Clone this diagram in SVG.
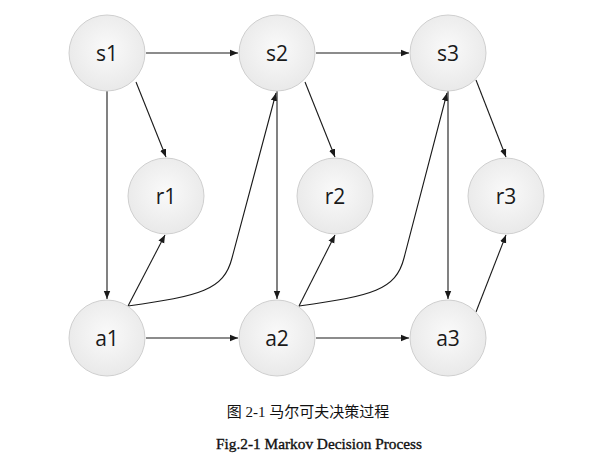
<svg xmlns="http://www.w3.org/2000/svg" width="600" height="474" viewBox="0 0 600 474">
<style>
.node circle{fill:url(#g);stroke:#cfcfcf;stroke-width:1}
.node text{font-family:"Open Sans","Noto Sans","Liberation Sans",sans-serif;font-size:21px;fill:#1a1a1a;text-anchor:middle}
#edges path{fill:none;stroke:#1a1a1a;stroke-width:1.1;marker-end:url(#ah)}
.cap{font-family:"Liberation Serif","Noto Sans CJK SC",serif;fill:#111;text-anchor:middle}
</style>
<defs>
<radialGradient id="g" cx="50%" cy="45%" r="55%">
<stop offset="0" stop-color="#fafafa"/>
<stop offset="1" stop-color="#e9e9e9"/>
</radialGradient>
<marker id="ah" viewBox="0 0 10 10" refX="10" refY="5" markerWidth="8" markerHeight="8" markerUnits="userSpaceOnUse" orient="auto">
<path d="M0,1 L10,5 L0,9 Z" fill="#1a1a1a"/>
</marker>
</defs>
<rect width="600" height="474" fill="#fff"/>
<g id="edges">
<path d="M146,53 L238,53"/>
<path d="M316,53 L409,53"/>
<path d="M146,338 L238,338"/>
<path d="M316,338 L409,338"/>
<path d="M107,91 L107,299"/>
<path d="M277,91 L277,299"/>
<path d="M448,91 L448,299"/>
<path d="M136,82 L166,157"/>
<path d="M305,82 L335,157"/>
<path d="M476,80 L506,157"/>
<path d="M128,306 L165,235"/>
<path d="M299,306 L335,235"/>
<path d="M476,312 L506,235"/>
<path d="M128,306 C200,296 224,290 232,258 L276,93"/>
<path d="M299,306 C372,296 396,290 404,258 L447,93"/>
</g>
<g id="s1" class="node"><circle cx="107" cy="53" r="38"/><text x="107" y="61">s1</text></g>
<g id="s2" class="node"><circle cx="277" cy="53" r="38"/><text x="277" y="61">s2</text></g>
<g id="s3" class="node"><circle cx="448" cy="53" r="38"/><text x="448" y="61">s3</text></g>
<g id="r1" class="node"><circle cx="166" cy="196" r="38"/><text x="166" y="204">r1</text></g>
<g id="r2" class="node"><circle cx="335" cy="196" r="38"/><text x="335" y="204">r2</text></g>
<g id="r3" class="node"><circle cx="506" cy="196" r="38"/><text x="506" y="204">r3</text></g>
<g id="a1" class="node"><circle cx="107" cy="338" r="38"/><text x="107" y="346">a1</text></g>
<g id="a2" class="node"><circle cx="277" cy="338" r="38"/><text x="277" y="346">a2</text></g>
<g id="a3" class="node"><circle cx="448" cy="338" r="38"/><text x="448" y="346">a3</text></g>
<text class="cap" x="308" y="417" font-size="15">图 2-1 马尔可夫决策过程</text>
<text class="cap" x="319" y="449" font-size="15" stroke="#111" stroke-width="0.35" textLength="206" lengthAdjust="spacingAndGlyphs">Fig.2-1 Markov Decision Process</text>
</svg>
